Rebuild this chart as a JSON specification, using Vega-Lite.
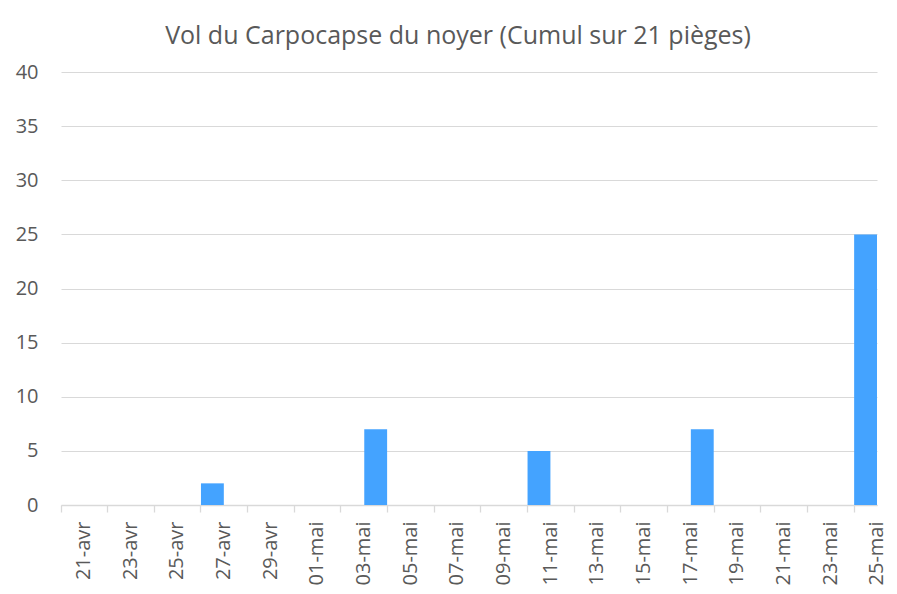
{
  "$schema": "https://vega.github.io/schema/vega-lite/v6.json",
  "width": 816,
  "height": 433,
  "autosize": {"type": "none"},
  "padding": {"left": 61, "top": 72, "right": 20, "bottom": 89},
  "background": "white",
  "title": {
    "text": "Vol du Carpocapse du noyer (Cumul sur 21 pièges)",
    "font": "Open Sans",
    "fontSize": 25,
    "fontWeight": "normal",
    "color": "#595959",
    "anchor": "middle",
    "frame": "group",
    "offset": 13,
    "dx": -11
  },
  "data": {
    "values": [
      {"date": "21-avr", "vol": 0}, {"date": "22-avr", "vol": 0}, {"date": "23-avr", "vol": 0},
      {"date": "24-avr", "vol": 0}, {"date": "25-avr", "vol": 0}, {"date": "26-avr", "vol": 0},
      {"date": "27-avr", "vol": 2}, {"date": "28-avr", "vol": 0}, {"date": "29-avr", "vol": 0},
      {"date": "30-avr", "vol": 0}, {"date": "01-mai", "vol": 0}, {"date": "02-mai", "vol": 0},
      {"date": "03-mai", "vol": 0}, {"date": "04-mai", "vol": 7}, {"date": "05-mai", "vol": 0},
      {"date": "06-mai", "vol": 0}, {"date": "07-mai", "vol": 0}, {"date": "08-mai", "vol": 0},
      {"date": "09-mai", "vol": 0}, {"date": "10-mai", "vol": 0}, {"date": "11-mai", "vol": 5},
      {"date": "12-mai", "vol": 0}, {"date": "13-mai", "vol": 0}, {"date": "14-mai", "vol": 0},
      {"date": "15-mai", "vol": 0}, {"date": "16-mai", "vol": 0}, {"date": "17-mai", "vol": 0},
      {"date": "18-mai", "vol": 7}, {"date": "19-mai", "vol": 0}, {"date": "20-mai", "vol": 0},
      {"date": "21-mai", "vol": 0}, {"date": "22-mai", "vol": 0}, {"date": "23-mai", "vol": 0},
      {"date": "24-mai", "vol": 0}, {"date": "25-mai", "vol": 25}
    ]
  },
  "mark": {"type": "bar", "color": "#44A3FF"},
  "encoding": {
    "x": {
      "field": "date",
      "type": "ordinal",
      "sort": null,
      "scale": {"paddingInner": 0.02, "paddingOuter": 0},
      "axis": {
        "title": null,
        "values": ["21-avr","23-avr","25-avr","27-avr","29-avr","01-mai","03-mai","05-mai","07-mai","09-mai","11-mai","13-mai","15-mai","17-mai","19-mai","21-mai","23-mai","25-mai"],
        "bandPosition": 0,
        "labelOffset": 11.7,
        "labelAngle": -90,
        "labelAlign": "right",
        "labelBaseline": "middle",
        "labelFont": "Open Sans",
        "labelFontSize": 20,
        "labelColor": "#595959",
        "labelPadding": 9,
        "domainColor": "#d9d9d9",
        "domainWidth": 1.3,
        "tickColor": "#d9d9d9",
        "tickWidth": 1.3,
        "tickSize": 7,
        "grid": false
      }
    },
    "y": {
      "field": "vol",
      "type": "quantitative",
      "scale": {"domain": [0, 40]},
      "axis": {
        "title": null,
        "values": [0, 5, 10, 15, 20, 25, 30, 35, 40],
        "labelFont": "Open Sans",
        "labelFontSize": 20,
        "labelColor": "#595959",
        "labelPadding": 23,
        "domain": false,
        "ticks": false,
        "grid": true,
        "gridColor": "#d9d9d9",
        "gridWidth": 1
      }
    }
  },
  "config": {"view": {"stroke": null}}
}
